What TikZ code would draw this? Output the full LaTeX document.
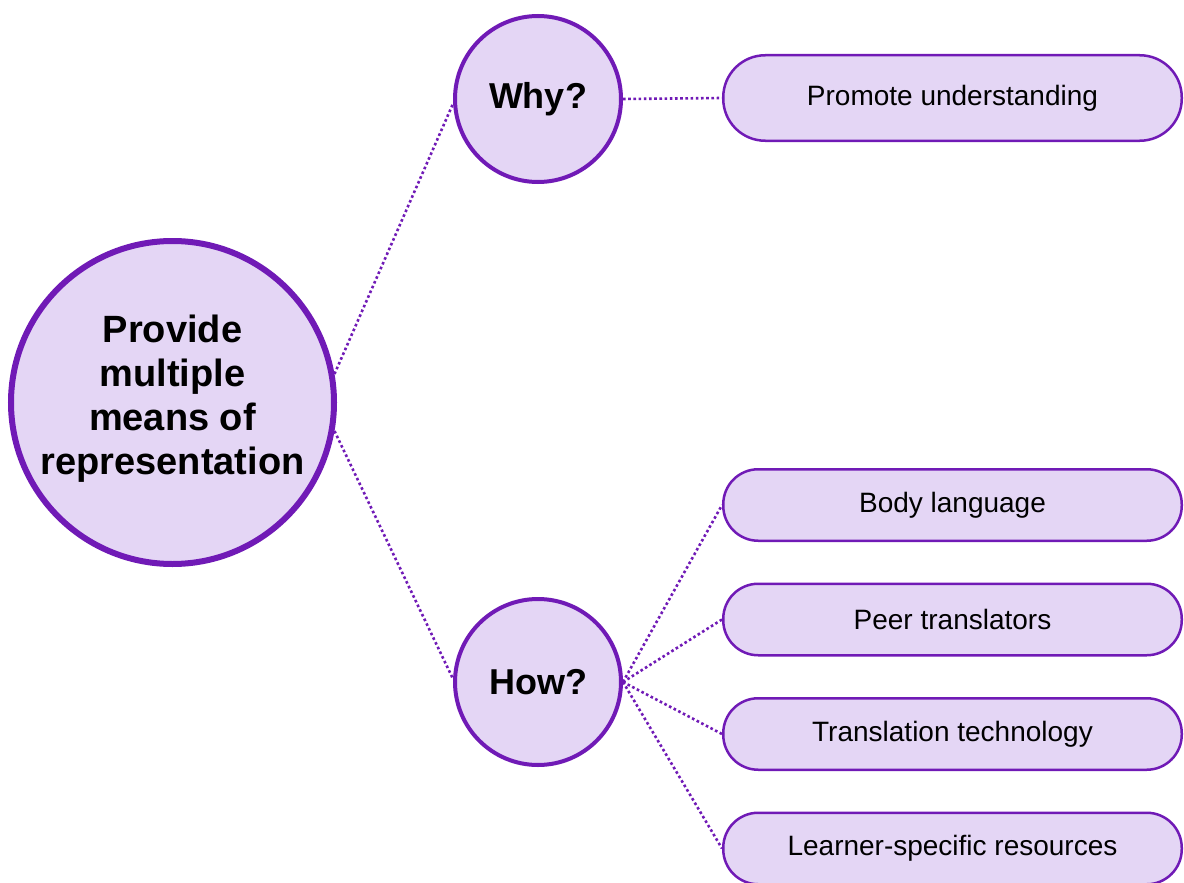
\documentclass[tikz,border=0pt]{standalone}
\usepackage{fontspec}
\setmainfont{Liberation Sans}
\definecolor{lav}{RGB}{228,214,245}
\definecolor{purp}{RGB}{112,26,182}
\begin{document}
\begin{tikzpicture}[x=1pt,y=-1pt,
  bigcirc/.style={circle,draw=purp,fill=lav,line width=6pt,minimum size=323pt,inner sep=0pt,align=center,
    font=\fontsize{38}{44}\selectfont\bfseries},
  qcirc/.style={circle,draw=purp,fill=lav,line width=4pt,minimum size=166pt,inner sep=0pt,
    font=\fontsize{36}{42}\selectfont\bfseries},
  pill/.style={rectangle,draw=purp,fill=lav,line width=2.5pt,minimum width=458.5pt,minimum height=71.5pt,
    rounded corners=35pt,inner sep=0pt,font=\fontsize{28}{32}\selectfont},
  tallpill/.style={pill,minimum height=85.5pt,rounded corners=42pt},
  dotline/.style={draw=purp,line width=2.6pt,dash pattern=on 2.6pt off 2.6pt}]
\useasboundingbox (0,0) rectangle (1184,883);
\node[bigcirc] (big) at (172.5,402.5) {Provide\\multiple\\means of\\representation\rule[-15pt]{0pt}{0pt}};
\node[qcirc] (why) at (538,99) {Why?};
\node[qcirc] (how) at (538,682) {How?};
\node[tallpill] (promote) at (952.5,98) {Promote understanding};
\node[pill] (body) at (952.5,505) {Body language};
\node[pill] (peer) at (952.5,619.5) {Peer translators};
\node[pill] (trans) at (952.5,734) {Translation technology};
\node[pill] (learn) at (952.5,848.5) {Learner-specific resources};
\draw[dotline] (big.10) -- (why.183);
\draw[dotline] (big.-10) -- (how.178);
\draw[dotline] (why.east) -- (promote.west);
\draw[dotline] (how.east) -- (body.west);
\draw[dotline] (how.east) -- (peer.west);
\draw[dotline] (how.east) -- (trans.west);
\draw[dotline] (how.east) -- (learn.west);
\end{tikzpicture}
\end{document}
